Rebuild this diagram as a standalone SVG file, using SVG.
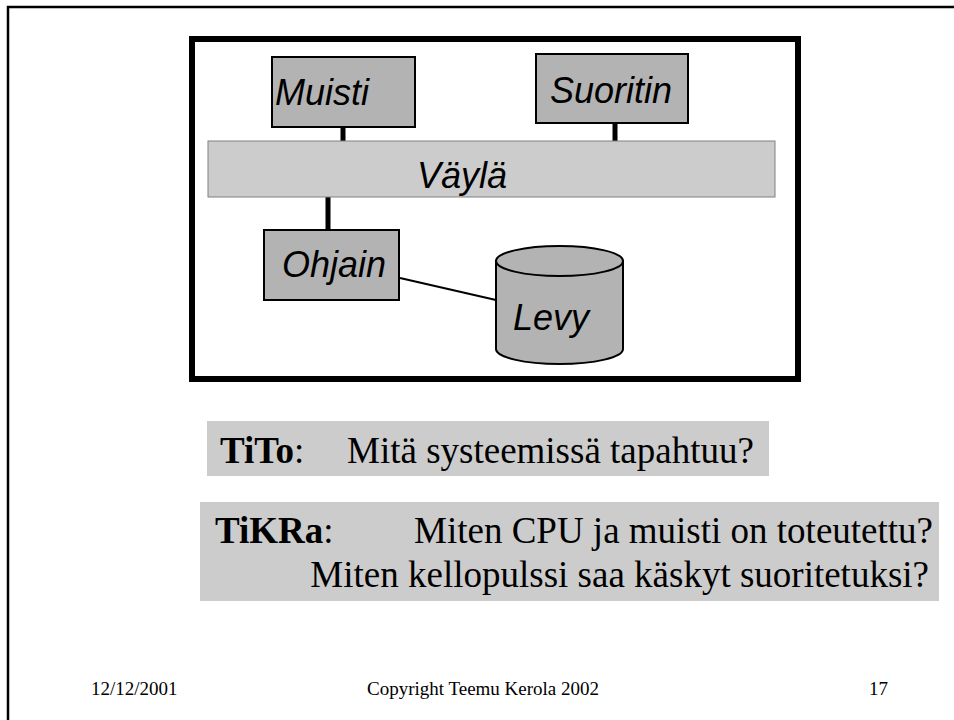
<svg xmlns="http://www.w3.org/2000/svg" width="954" height="720" viewBox="0 0 954 720">
<style>
.box{fill:#b3b3b3;stroke:#000;stroke-width:2}
.lbl{font-family:"Liberation Sans",Arial,sans-serif;font-style:italic;font-size:36px;fill:#000}
.ser{font-family:"Liberation Serif","Times New Roman",serif;font-size:37px;fill:#000}
.foot{font-family:"Liberation Serif","Times New Roman",serif;font-size:19px;fill:#000}
.bar{stroke:#000;stroke-width:5}
</style>
<rect width="954" height="720" fill="#fff"/>
<rect x="8" y="7" width="1000" height="800" fill="none" stroke="#000" stroke-width="2.5"/>
<rect x="192" y="39" width="606" height="340" fill="#fff" stroke="#000" stroke-width="6"/>
<g id="connectors">
<line class="bar" x1="343" y1="127" x2="343" y2="142"/>
<line class="bar" x1="615" y1="123" x2="615" y2="142"/>
<line class="bar" x1="328" y1="196" x2="328" y2="231"/>
<line x1="400" y1="278" x2="496" y2="300" stroke="#000" stroke-width="2"/>
</g>
<g id="bus">
<rect x="208" y="141" width="567" height="56" fill="#cccccc" stroke="#808080" stroke-width="1"/>
<text class="lbl" x="417" y="188">Väylä</text>
</g>
<g id="muisti">
<rect class="box" x="272" y="57" width="143" height="70"/>
<text class="lbl" x="275" y="105">Muisti</text>
</g>
<g id="suoritin">
<rect class="box" x="536" y="54" width="152" height="69"/>
<text class="lbl" x="550" y="103">Suoritin</text>
</g>
<g id="ohjain">
<rect class="box" x="264" y="230" width="135" height="70"/>
<text class="lbl" x="282" y="277">Ohjain</text>
</g>
<g id="levy">
<path d="M496,261 L496,349 A63.5,15 0 0 0 623,349 L623,261 Z" fill="#b3b3b3" stroke="#000" stroke-width="2"/>
<ellipse cx="559.5" cy="261" rx="63.5" ry="15" fill="#b3b3b3" stroke="#000" stroke-width="2"/>
<text class="lbl" x="513" y="330">Levy</text>
</g>
<g id="tito">
<rect x="207" y="421" width="562" height="55" fill="#cccccc"/>
<text class="ser" x="220" y="463"><tspan font-weight="bold">TiTo</tspan>:</text>
<text class="ser" x="347" y="463">Mitä systeemissä tapahtuu?</text>
</g>
<g id="tikra">
<rect x="200" y="502" width="739" height="99" fill="#cccccc"/>
<text class="ser" x="215" y="543"><tspan font-weight="bold">TiKRa</tspan>:</text>
<text class="ser" x="933" y="543" text-anchor="end">Miten CPU ja muisti on toteutettu?</text>
<text class="ser" x="929" y="587" text-anchor="end">Miten kellopulssi saa käskyt suoritetuksi?</text>
</g>
<g id="footer">
<text class="foot" x="91" y="695">12/12/2001</text>
<text class="foot" x="483" y="695" text-anchor="middle">Copyright Teemu Kerola 2002</text>
<text class="foot" x="888" y="695" text-anchor="end">17</text>
</g>
</svg>
